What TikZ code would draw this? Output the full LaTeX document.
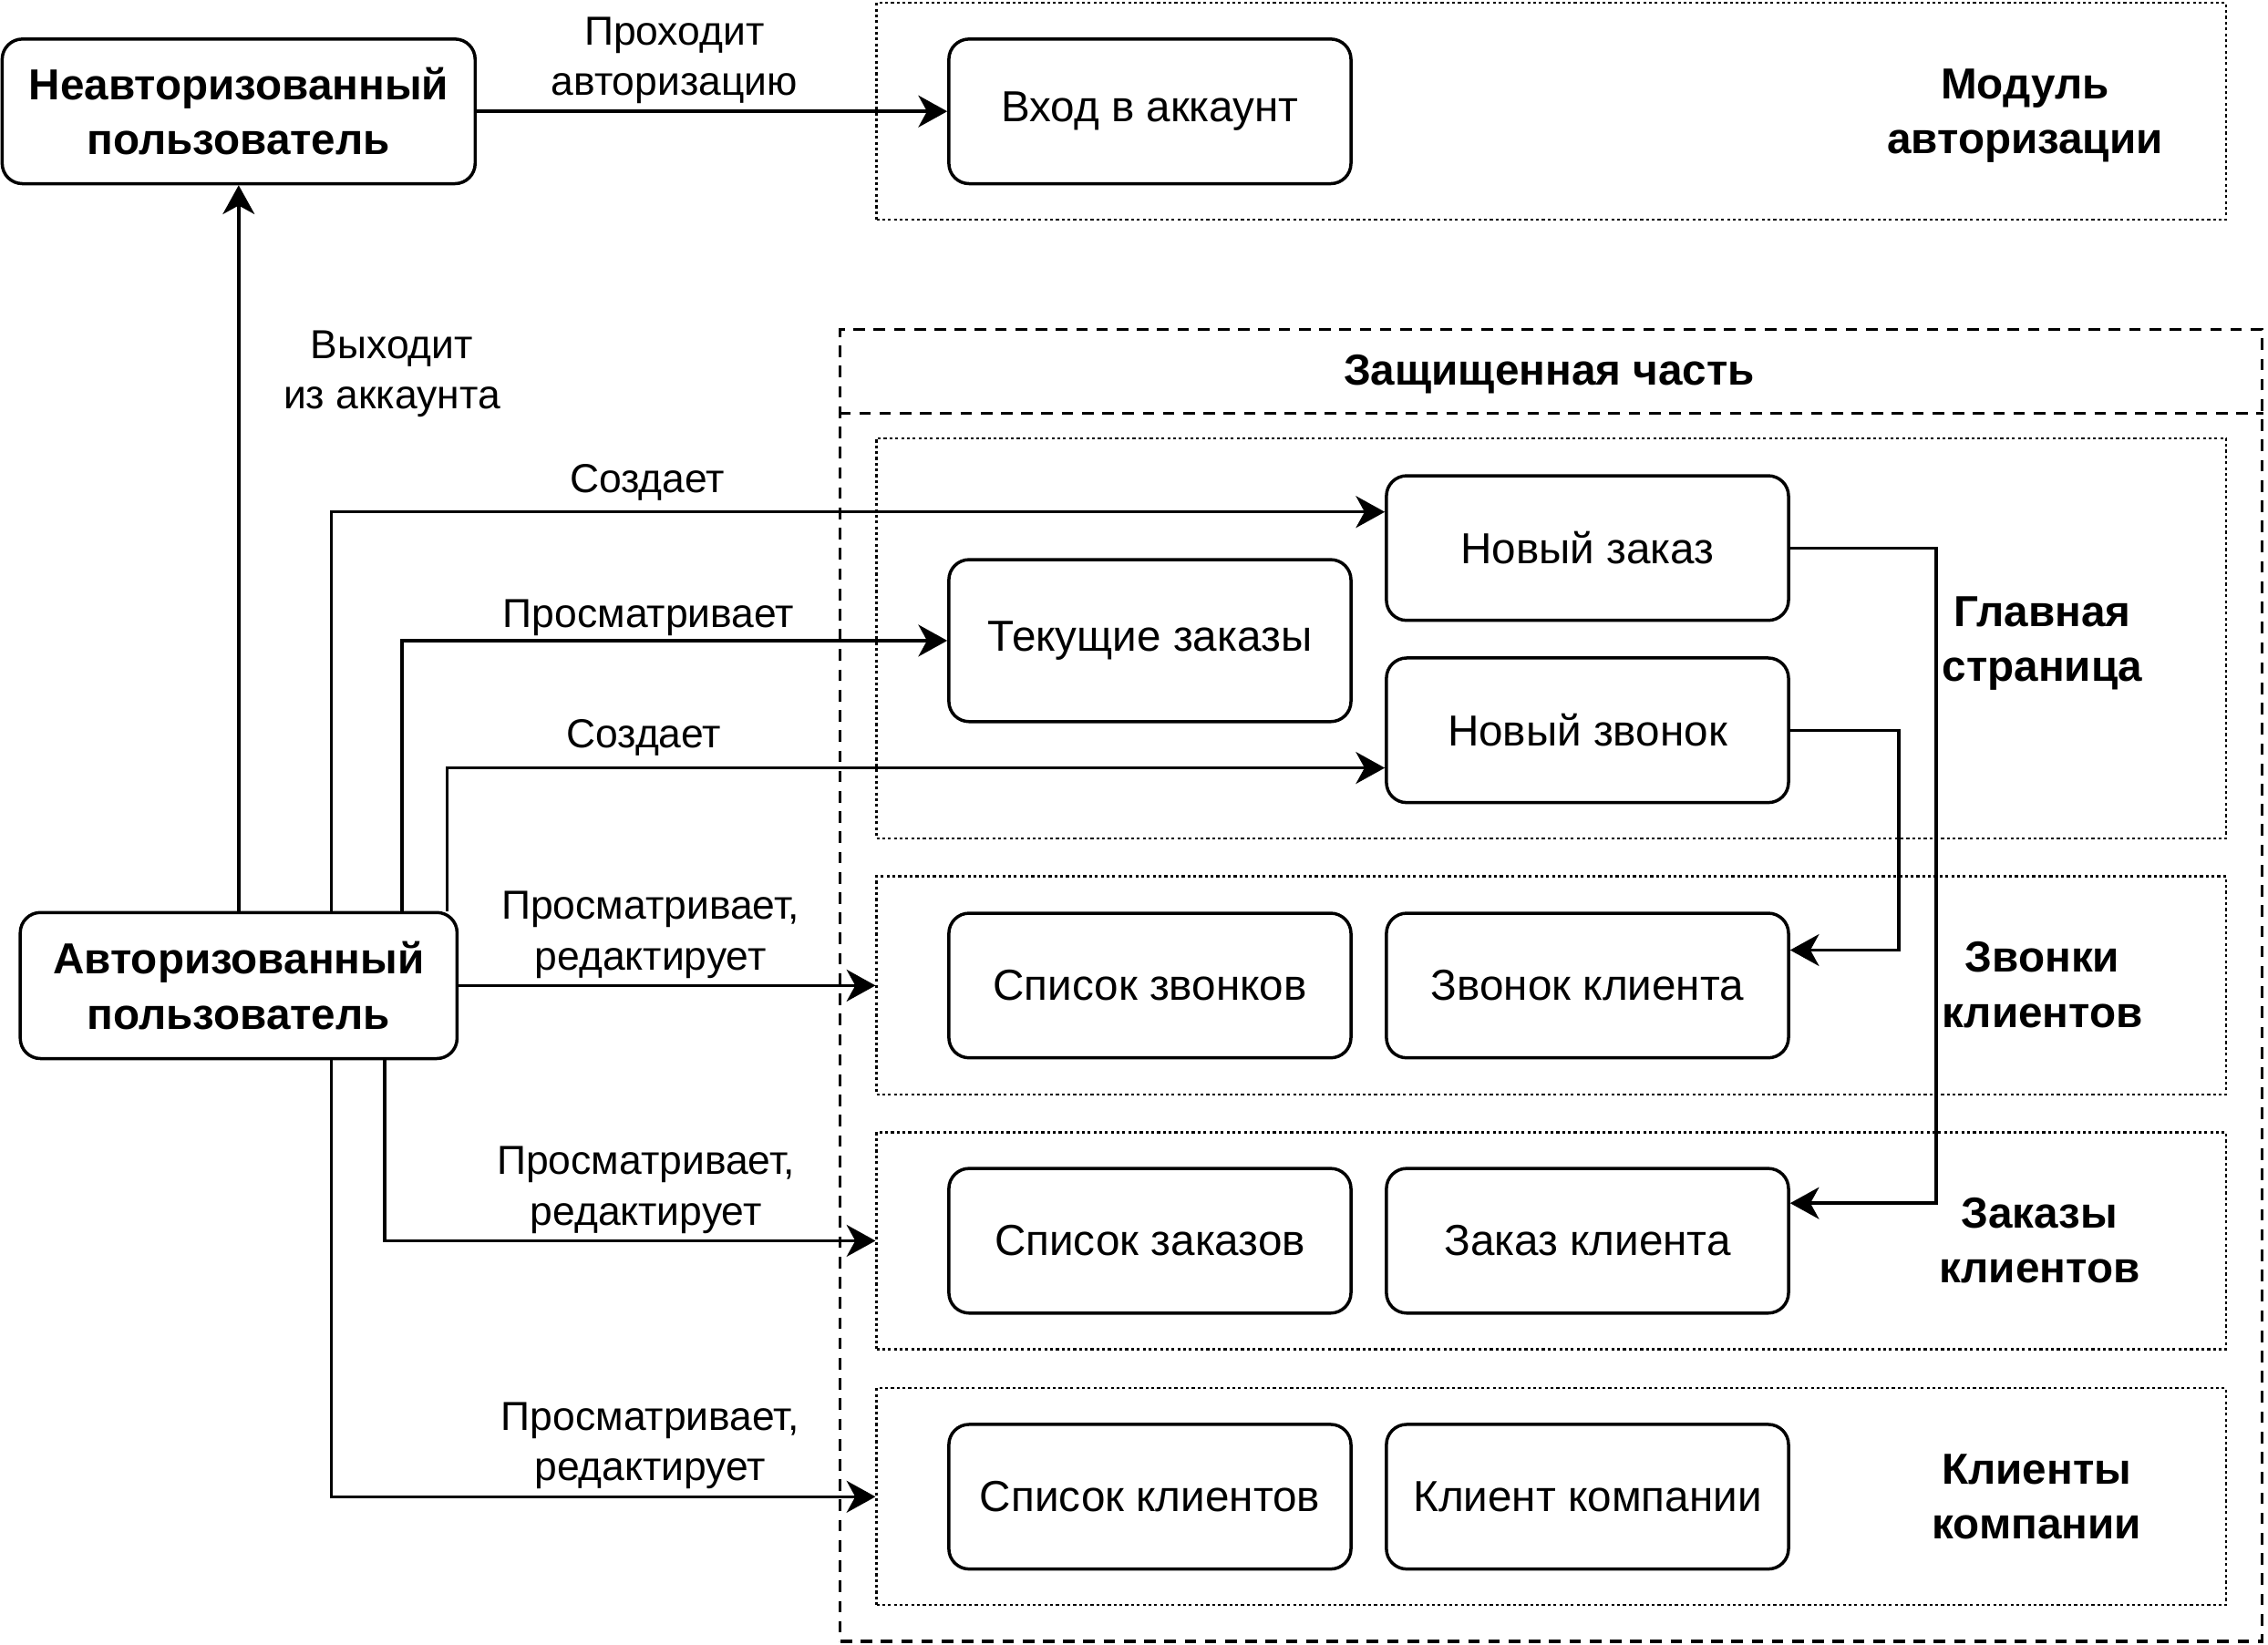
\documentclass[tikz,border=0pt]{standalone}
\usepackage{fontspec}
\setmainfont{Liberation Sans}
\usetikzlibrary{arrows.meta}
\usetikzlibrary{calc}

\begin{document}
\begin{tikzpicture}[x=0.5pt, y=-0.5pt, line width=1.1pt,
        font=\fontsize{14}{17.5}\selectfont,
        node_style/.style={draw, rounded corners=7pt, align=center, minimum width=139pt, minimum height=50pt, inner sep=0pt, font=\fontsize{15}{18}\selectfont},
        user_style/.style={node_style, font=\fontsize{15}{19}\selectfont\bfseries},
        group_style/.style={draw, line width=0.7pt, dash pattern=on 1pt off 1pt, minimum width=466.5pt, minimum height=75pt, inner sep=0pt},
        area_style/.style={draw, line width=1pt, dash pattern=on 4pt off 3pt},
        title_style/.style={align=center, font=\fontsize{15}{19}\selectfont\bfseries},
        edge_style/.style={draw, -{Stealth[length=10pt, width=11pt, inset=3pt]}},
        label_style/.style={align=center, inner sep=1pt}]

        \useasboundingbox (0,0) rectangle (1568,1137);

        % groups
        \node [group_style] (authmod) at (1072.5,77) {};
        \node [area_style, minimum width=491.5pt, minimum height=453.5pt, inner sep=0pt] (protected) at (1072.5,681.5) {};
        \coordinate (sep) at (0,286);
        \draw [area_style] (protected.west |- sep) -- (protected.east |- sep);
        \node [group_style, minimum height=138.5pt] (mainpage) at (1072.5,441.5) {};
        \node [group_style, minimum height=75.5pt] (calls) at (1072.5,681.5) {};
        \node [group_style] (orders) at (1072.5,858) {};
        \node [group_style] (clients) at (1072.5,1035) {};

        \node [title_style] (authtitle) at (1400,80) {Модуль\\авторизации};
        \node [title_style] (prottitle) at (1071,259) {Защищенная часть};
        \node [title_style] (maintitle) at (1412,445) {Главная\\страница};
        \node [title_style] (callstitle) at (1412,681) {Звонки\\клиентов};
        \node [title_style] (orderstitle) at (1410,858) {Заказы\\клиентов};
        \node [title_style] (clientstitle) at (1408,1035) {Клиенты\\компании};

        % users
        \node [user_style, minimum width=163.5pt] (unauth) at (165,77) {Неавторизованный\\пользователь};
        \node [user_style, minimum width=151pt, minimum height=50.5pt] (auth) at (165,681.5) {Авторизованный\\пользователь};

        % pages
        \node [node_style] (login) at (795,77) {Вход в аккаунт};
        \node [node_style] (neworder) at (1097.5,379) {Новый заказ};
        \node [node_style, minimum height=56pt] (current) at (795,443) {Текущие заказы};
        \node [node_style] (newcall) at (1097.5,505) {Новый звонок};
        \node [node_style] (calllist) at (795,681.5) {Список звонков};
        \node [node_style] (call) at (1097.5,681.5) {Звонок клиента};
        \node [node_style] (orderlist) at (795,858) {Список заказов};
        \node [node_style] (order) at (1097.5,858) {Заказ клиента};
        \node [node_style] (clientlist) at (795,1035) {Список клиентов};
        \node [node_style] (client) at (1097.5,1035) {Клиент компании};

        % connectors
        \draw [edge_style] (unauth) -- node[label_style, above=1pt, pos=0.42] {Проходит\\авторизацию} (login);

        \draw [edge_style] (auth.north) -- node[label_style, right=14pt, pos=0.74] {Выходит\\из аккаунта} (unauth.south);

        \draw [edge_style] ($(auth.north)+(64,0)$) |- node[label_style, above=2.5pt, pos=0.65] {Создает} ($(neworder.west)+(0,-25)$);

        \draw [edge_style] ($(auth.north)+(113,0)$) |- node[label_style, above, pos=0.726] {Просматривает} (current.west);

        \draw [edge_style] ($(auth.north)+(144,0)$) |- node[label_style, above=2.5pt, pos=0.605] {Создает} ($(newcall.west)+(0,26)$);

        \draw [edge_style] (auth.east) -- node[label_style, above=1pt, pos=0.46] {Просматривает,\\редактирует} (calls.west);

        \draw [edge_style] ($(auth.south)+(101,0)$) |- node[label_style, above=1pt, pos=0.766] {Просматривает,\\редактирует} (orders.west);

        \draw [edge_style] ($(auth.south)+(64,0)$) |- node[label_style, above=1pt, pos=0.793] {Просматривает,\\редактирует} (clients.west);

        \draw [edge_style] (neworder.east) -- ++(101,0) |- ($(order.east)+(0,-26)$);

        \draw [edge_style] (newcall.east) -- ++(75,0) |- ($(call.east)+(0,-24.5)$);

\end{tikzpicture}
\end{document}
